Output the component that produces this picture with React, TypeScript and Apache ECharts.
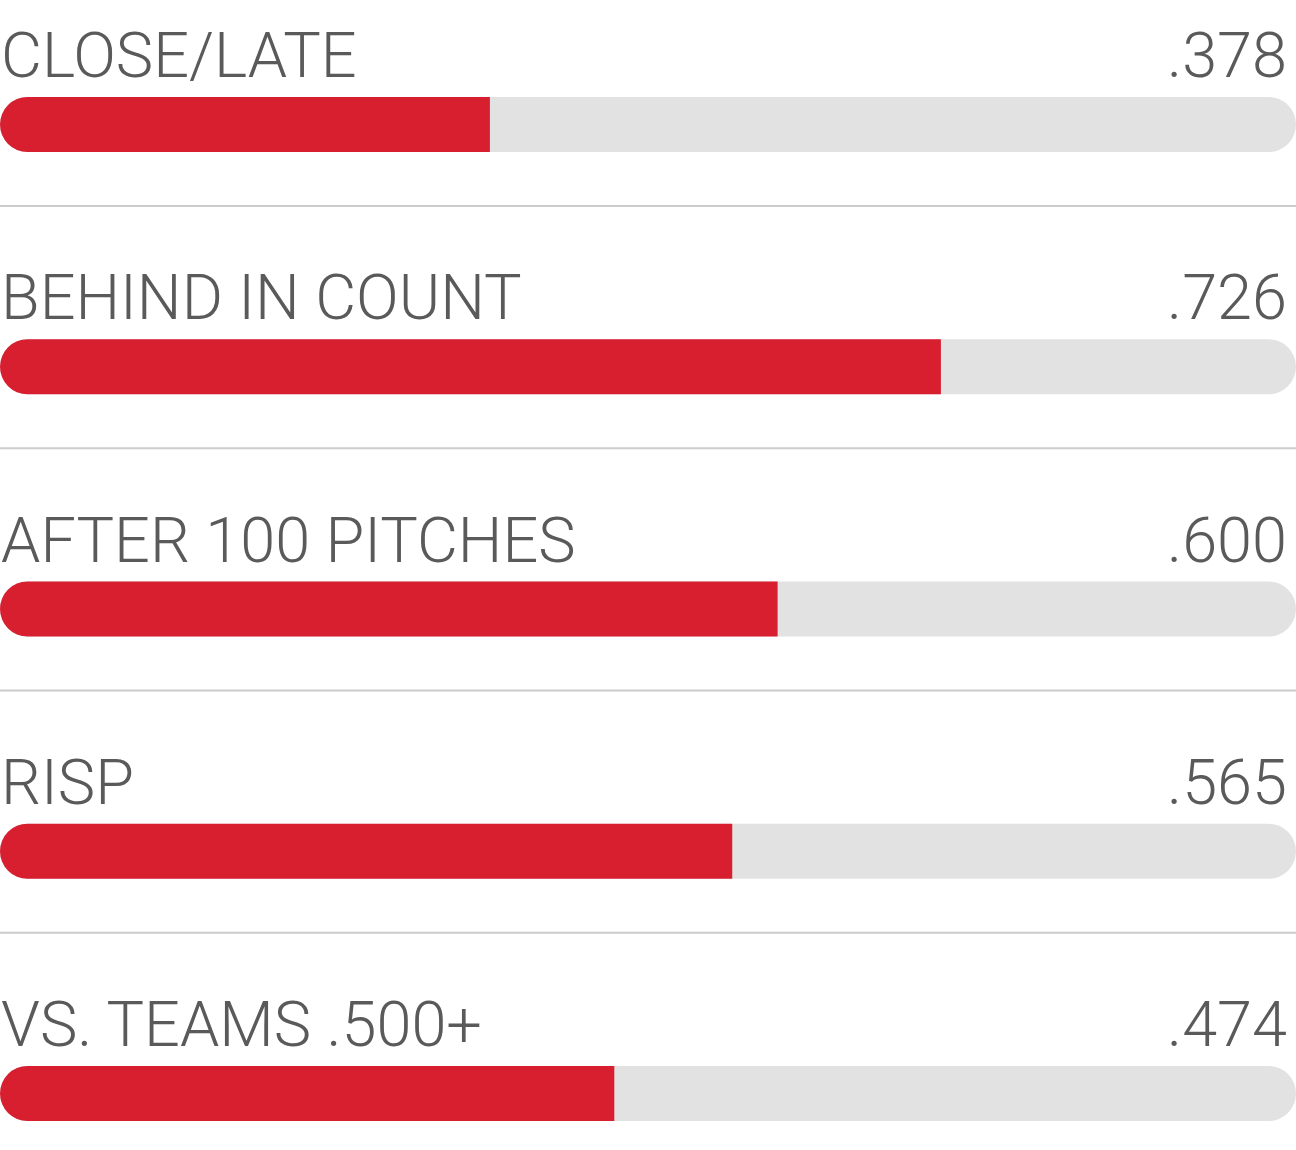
import React, { useEffect, useRef } from "react";
import * as echarts from "echarts";

const categories = ["CLOSE/LATE", "BEHIND IN COUNT", "AFTER 100 PITCHES", "RISP", "VS. TEAMS .500+"];
const values = [0.378, 0.726, 0.6, 0.565, 0.474];
const trackValues = [1, 1, 1, 1, 1];

const fmt = (v: number) => v.toFixed(3).replace(/^0/, "");

const FONT = "Roboto";
const TEXT_COLOR = "#5a5a5a";

export default function App() {
  const ref = useRef<HTMLDivElement>(null);
  useEffect(() => {
    if (!ref.current) return;
    const chart = echarts.init(ref.current, undefined, { renderer: "svg" });
    const labelBase = {
      show: true,
      fontFamily: FONT,
      fontWeight: 300,
      fontSize: 63,
      color: TEXT_COLOR,
      verticalAlign: "bottom",
      lineHeight: 63,
    };
    chart.setOption({
      animation: false,
      grid: { left: 0, right: 0, top: 124.5, bottom: 56.5, containLabel: false },
      xAxis: { type: "value", min: 0, max: 1, show: false },
      yAxis: {
        type: "category",
        data: categories,
        inverse: true,
        boundaryGap: false,
        show: false,
      },
      series: [
        {
          type: "bar",
          data: trackValues,
          barWidth: 55,
          barGap: "-100%",
          itemStyle: { color: "#e2e2e2", borderRadius: 27.5 },
          label: {
            ...labelBase,
            position: [1, -10],
            align: "left",
            formatter: (p: any) => p.name,
          },
          silent: true,
          z: 1,
        },
        {
          type: "bar",
          data: values,
          barWidth: 55,
          barGap: "-100%",
          itemStyle: { color: "#d71f30", borderRadius: [27.5, 0, 0, 27.5] },
          silent: true,
          z: 2,
        },
        {
          type: "bar",
          data: trackValues,
          barWidth: 55,
          barGap: "-100%",
          itemStyle: { color: "rgba(0,0,0,0)" },
          label: {
            ...labelBase,
            position: [1287, -10],
            align: "right",
            formatter: (p: any) => fmt(values[p.dataIndex]),
          },
          silent: true,
          z: 3,
        },
      ],
    });
    const lines: any[] = [];
    for (let i = 0; i < categories.length - 1; i++) {
      const y = (chart.convertToPixel({ yAxisIndex: 0 }, i) as number) + 81.5;
      lines.push({
        type: "line",
        shape: { x1: 0, y1: y, x2: 1296, y2: y },
        style: { stroke: "#cccccc", lineWidth: 2 },
        silent: true,
      });
    }
    chart.setOption({ graphic: lines });
    return () => chart.dispose();
  }, []);
  return (
    <div
      ref={ref}
      style={{ position: "absolute", left: 0, top: 0, width: 1296, height: 1150, background: "#fff" }}
    />
  );
}
